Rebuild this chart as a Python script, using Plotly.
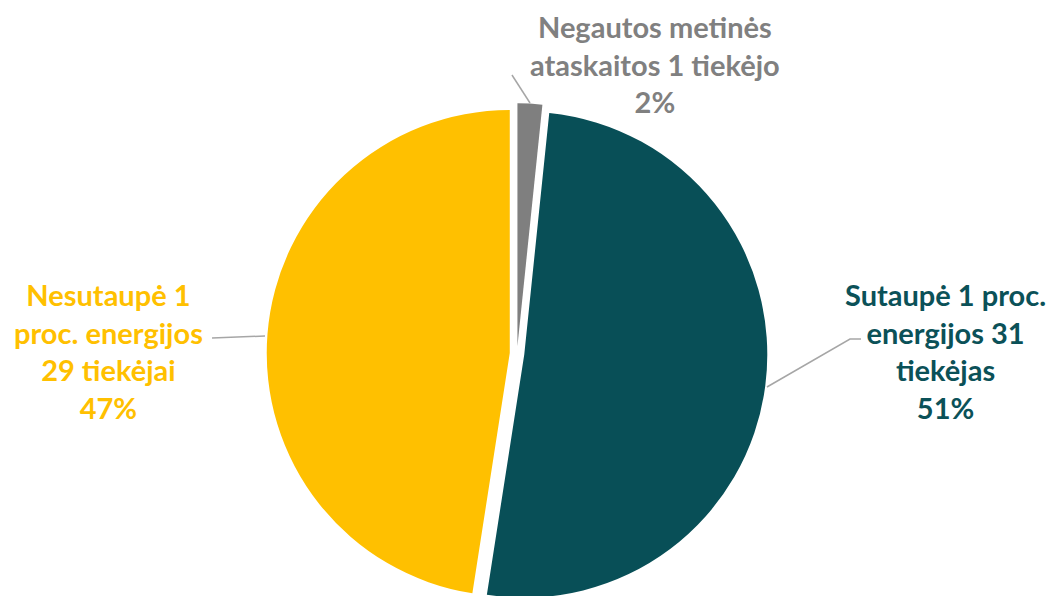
import plotly.graph_objects as go

labels = ["Negautos metinės ataskaitos 1 tiekėjo",
          "Sutaupė 1 proc. energijos 31 tiekėjas",
          "Nesutaupė 1 proc. energijos 29 tiekėjai"]
values = [1, 31, 29]
percents = ["2%", "51%", "47%"]
colors = ["#7F7F7F", "#084F57", "#FFC000"]
label_colors = ["#808080", "#0B5158", "#FFC000"]
label_lines = [["Negautos metinės", "ataskaitos 1 tiekėjo"],
               ["Sutaupė 1 proc.", "energijos 31", "tiekėjas"],
               ["Nesutaupė 1", "proc. energijos", "29 tiekėjai"]]

W, H = 1055, 596
OFF = 8  # default page body margin

fig = go.Figure(go.Pie(
    labels=labels, values=values, sort=False, direction="clockwise",
    rotation=0, pull=[0.03, 0.03, 0.03],
    marker=dict(colors=colors, line=dict(width=0)),
    textinfo="none", hoverinfo="label+percent",
    domain=dict(x=[0.0, 0.965], y=[0.0, 0.84]),
    showlegend=False,
))

def to_paper(sx, sy):
    return (sx - OFF) / W, 1 - (sy - OFF) / H

# label positions (screen pixel centres)
label_pos = [(655, 64), (945, 351), (108, 351)]
anns = []
for lines, pct, col, (sx, sy) in zip(label_lines, percents, label_colors, label_pos):
    x, y = to_paper(sx, sy)
    anns.append(dict(
        x=x, y=y, xref="paper", yref="paper",
        text="<br>".join(lines + [pct]), showarrow=False,
        font=dict(family="Lato", size=29, color=col, weight="bold"),
        align="center", xanchor="center", yanchor="middle",
    ))

def p(sx, sy):
    x, y = to_paper(sx, sy)
    return f"{x:.4f},{y:.4f}"

leaders = [
    [(512, 75), (530, 103)],
    [(767, 387), (850, 339), (861, 339)],
    [(212, 338), (265, 336)],
]
shapes = []
for pts in leaders:
    path = "M " + " L ".join(p(*pt) for pt in pts)
    shapes.append(dict(type="path", path=path, xref="paper", yref="paper",
                       line=dict(color="#A6A6A6", width=1.5)))

fig.update_layout(
    width=W, height=H, margin=dict(l=0, r=0, t=0, b=0),
    paper_bgcolor="white", plot_bgcolor="white",
    annotations=anns, shapes=shapes,
)

fig.write_html("out.html")
